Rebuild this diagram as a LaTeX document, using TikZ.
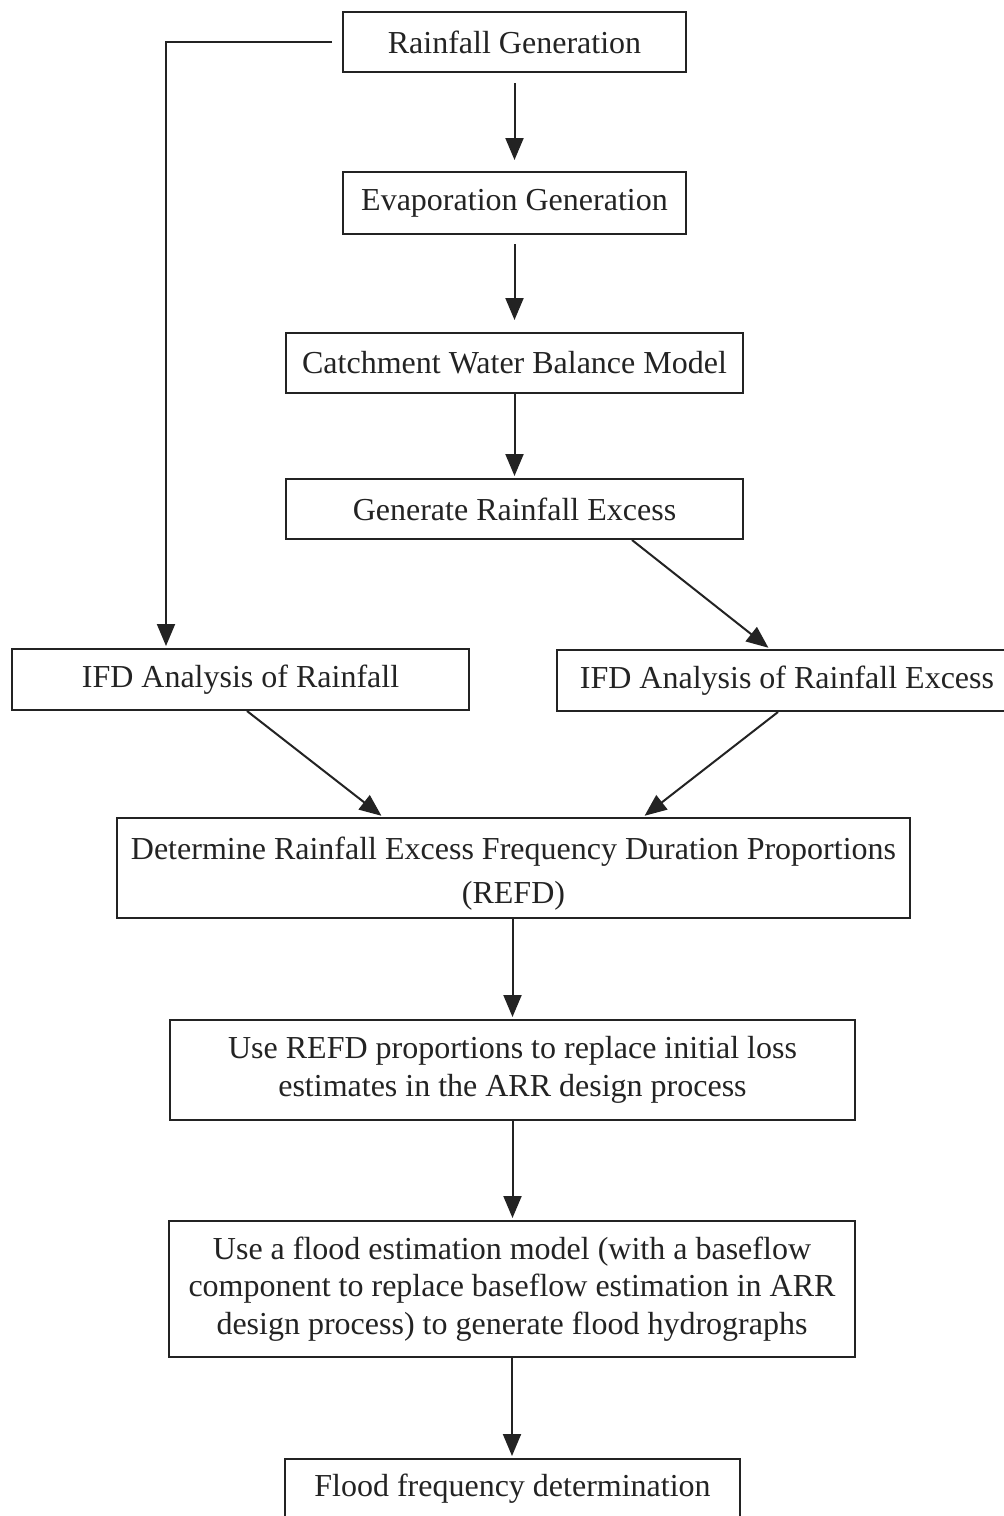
\documentclass[tikz,border=0pt]{standalone}
\usepackage{fontspec}
\setmainfont{Liberation Serif}
\usetikzlibrary{arrows.meta,calc}
\definecolor{ink}{RGB}{35,35,35}
\begin{document}
\begin{tikzpicture}[x=0.5pt,y=-0.5pt,
  box/.style={draw=ink, line width=1pt, text=ink, inner sep=0pt, align=center,
    font=\fontsize{16}{18.75}\selectfont},
  arr/.style={draw=ink, line width=1pt, -{Triangle[length=11pt,width=9pt]}}]
\useasboundingbox (0,0) rectangle (1004,1516);
\clip (0,0) rectangle (1004,1516);
\fill[white] (0,0) rectangle (1004,1516);
\node[box, minimum width=171.5pt, minimum height=30pt] (rg) at (514.5,42) {Rainfall Generation};
\node[box, minimum width=171.5pt, minimum height=31pt] (eg) at (514.5,203) {Evaporation Generation};
\node[box, minimum width=228.5pt, minimum height=30pt] (cwb) at (514.5,363) {Catchment Water Balance Model};
\node[box, minimum width=228.5pt, minimum height=30pt] (gre) at (514.5,509) {Generate Rainfall Excess};
\node[box, minimum width=228.5pt, minimum height=30.5pt] (ifdr) at (240.5,679.5) {IFD Analysis of Rainfall};
\node[box, minimum width=230pt, minimum height=30.5pt] (ifde) at (787,680.5) {IFD Analysis of Rainfall Excess};
\node[box, minimum width=396.5pt, minimum height=50pt, font=\fontsize{16}{22}\selectfont] (refd) at (513.5,868) {\rule{0pt}{17pt}Determine Rainfall Excess Frequency Duration Proportions\\(REFD)};
\node[box, minimum width=342.5pt, minimum height=50pt] (ur) at (512.5,1070) {Use REFD proportions to replace initial loss\\estimates in the ARR design process};
\node[box, minimum width=343pt, minimum height=68pt] (fl) at (512,1289) {Use a flood estimation model (with a baseflow\\component to replace baseflow estimation in ARR\\design process) to generate flood hydrographs};
\node[box, minimum width=227.5pt, minimum height=30pt] (ffd) at (512.5,1489) {Flood frequency determination};

\draw[arr, shorten <=5pt, shorten >=5.5pt] (rg.south) -- (eg.north);
\draw[arr, shorten <=4.5pt, shorten >=6pt] (eg.south) -- (cwb.north);
\draw[arr, shorten >=1pt] (cwb.south) -- (gre.north);
\draw[arr, shorten >=1pt] ([xshift=58.75pt]gre.south) -- ([xshift=-8.5pt]ifde.north);
\draw[arr, shorten >=1pt] ([xshift=-5pt]rg.west) -| ([xshift=-37.25pt]ifdr.north);
\draw[arr, shorten >=1pt] ([xshift=3.25pt]ifdr.south) -- ([xshift=-65.25pt]refd.north);
\draw[arr, shorten >=1pt] ([xshift=-4.5pt]ifde.south) -- ([xshift=64.75pt]refd.north);
\draw[arr, shorten >=1pt] (refd.south -| ur.north) -- (ur.north);
\draw[arr, shorten >=1pt] (ur.south) -- (ur.south |- fl.north);
\draw[arr, shorten >=1pt] (fl.south) -- (fl.south |- ffd.north);
\end{tikzpicture}
\end{document}
